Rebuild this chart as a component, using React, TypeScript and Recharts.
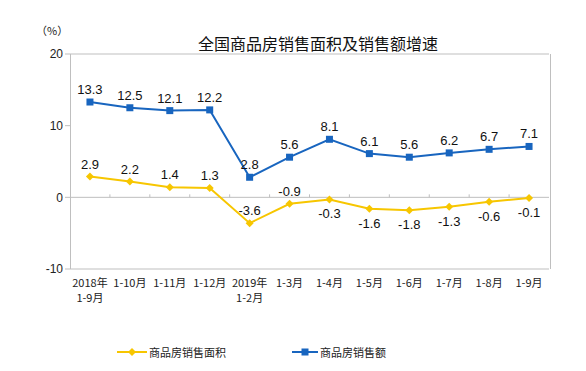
import { LineChart, Line, XAxis, YAxis, ReferenceLine, LabelList } from 'recharts';

const categories = [
  '2018年\n1-9月', '1-10月', '1-11月', '1-12月', '2019年\n1-2月', '1-3月',
  '1-4月', '1-5月', '1-6月', '1-7月', '1-8月', '1-9月',
];
const areaGrowth = [2.9, 2.2, 1.4, 1.3, -3.6, -0.9, -0.3, -1.6, -1.8, -1.3, -0.6, -0.1];
const salesGrowth = [13.3, 12.5, 12.1, 12.2, 2.8, 5.6, 8.1, 6.1, 5.6, 6.2, 6.7, 7.1];
const yTicks = [-10, 0, 10, 20];
// yellow labels sit above the first six points, below the rest
const areaLabelBelow = [false, false, false, false, false, false, true, true, true, true, true, true];

const YELLOW = '#F7C600';
const BLUE = '#1865BF';
const GRAY = '#BFBFBF';
const CJK = '"Noto Sans CJK SC", sans-serif';
const LATIN = '"Liberation Sans", Arial, sans-serif';

const data = categories.map((name, i) => ({
  name,
  area: areaGrowth[i],
  sales: salesGrowth[i],
}));

const XTick = (props: any) => {
  const { x, y, payload } = props;
  const lines = String(payload.value).split('\n');
  return (
    <text x={x} y={y} textAnchor="middle" fontSize={11} fontFamily={CJK} fill="#222">
      {lines.map((l, i) => (
        <tspan key={i} x={x} dy={i === 0 ? 10 : 15}>{l}</tspan>
      ))}
    </text>
  );
};

const ZeroLine = (props: any) => {
  const { x1, x2, y1 } = props;
  const step = (x2 - x1) / categories.length;
  const ticks = [];
  for (let i = 1; i < categories.length; i++) {
    const tx = x1 + step * i;
    ticks.push(<line key={i} x1={tx} x2={tx} y1={y1} y2={y1 - 3} stroke={GRAY} />);
  }
  return (
    <g>
      <line x1={x1} x2={x2} y1={y1} y2={y1} stroke={GRAY} />
      {ticks}
    </g>
  );
};

const Diamond = (props: any) => {
  const { cx, cy } = props;
  if (cx == null || cy == null) return null;
  const r = 4;
  return <path d={`M${cx},${cy - r}L${cx + r},${cy}L${cx},${cy + r}L${cx - r},${cy}Z`} fill={YELLOW} />;
};

const Square = (props: any) => {
  const { cx, cy } = props;
  if (cx == null || cy == null) return null;
  return <rect x={cx - 3.5} y={cy - 3.5} width={7} height={7} fill={BLUE} />;
};

const AreaLabel = (props: any) => {
  const { x, y, value, index } = props;
  const below = areaLabelBelow[index];
  return (
    <text x={x} y={below ? y + 19 : y - 8} textAnchor="middle" fontSize={13} fontFamily={LATIN} fill="#111">
      {value}
    </text>
  );
};

const SalesLabel = (props: any) => {
  const { x, y, value } = props;
  return (
    <text x={x} y={y - 8} textAnchor="middle" fontSize={13} fontFamily={LATIN} fill="#111">
      {value}
    </text>
  );
};

export default function App() {
  return (
    <div style={{ position: 'absolute', left: 0, top: 0, width: 586, height: 371, background: '#fff' }}>
      <div style={{ position: 'absolute', left: 0, width: 586, top: 31, textAlign: 'center', paddingLeft: 50, boxSizing: 'border-box', fontFamily: CJK, fontSize: 16, color: '#111' }}>
        全国商品房销售面积及销售额增速
      </div>
      <div style={{ position: 'absolute', left: 36, top: 22, fontFamily: CJK, fontSize: 11, color: '#222' }}>（%）</div>
      <LineChart
        width={586}
        height={371}
        data={data}
        margin={{ top: 54, right: 37, bottom: 0, left: 0 }}
      >
        <XAxis
          dataKey="name"
          scale="band"
          axisLine={false}
          tickLine={false}
          tick={<XTick />}
          interval={0}
          height={102}
        />
        <YAxis
          domain={[-10, 20]}
          ticks={yTicks}
          width={70}
          axisLine={false}
          tickLine={{ stroke: GRAY }}
          tickSize={5}
          tick={{ fontSize: 12, fontFamily: LATIN, fill: '#222' }}
        />
        <ReferenceLine y={20} stroke={GRAY} />
        <ReferenceLine y={-10} stroke={GRAY} />
        <ReferenceLine y={0} shape={<ZeroLine />} />
        <Line
          dataKey="area"
          stroke={YELLOW}
          strokeWidth={2}
          dot={<Diamond />}
          activeDot={false}
          isAnimationActive={false}
        >
          <LabelList dataKey="area" content={<AreaLabel />} />
        </Line>
        <Line
          dataKey="sales"
          stroke={BLUE}
          strokeWidth={2}
          dot={<Square />}
          activeDot={false}
          isAnimationActive={false}
        >
          <LabelList dataKey="sales" content={<SalesLabel />} />
        </Line>
      </LineChart>
      {/* plot frame sides */}
      <div style={{ position: 'absolute', left: 70, top: 54, width: 479, height: 215, borderLeft: `1px solid ${GRAY}`, borderRight: `1px solid ${GRAY}`, pointerEvents: 'none' }} />
      <div style={{ position: 'absolute', top: 344, left: 0, width: 586, fontFamily: CJK, fontSize: 11, color: '#222' }}>
        <div style={{ position: 'absolute', left: 117, display: 'flex', alignItems: 'center' }}>
          <svg width={30} height={10}>
            <line x1={0} x2={30} y1={5} y2={5} stroke={YELLOW} strokeWidth={2} />
            <path d="M15,1L19,5L15,9L11,5Z" fill={YELLOW} />
          </svg>
          <span style={{ marginLeft: 2 }}>商品房销售面积</span>
        </div>
        <div style={{ position: 'absolute', left: 292, display: 'flex', alignItems: 'center' }}>
          <svg width={26} height={10}>
            <line x1={0} x2={26} y1={5} y2={5} stroke={BLUE} strokeWidth={2} />
            <rect x={9.5} y={1.5} width={7} height={7} fill={BLUE} />
          </svg>
          <span style={{ marginLeft: 2 }}>商品房销售额</span>
        </div>
      </div>
    </div>
  );
}
